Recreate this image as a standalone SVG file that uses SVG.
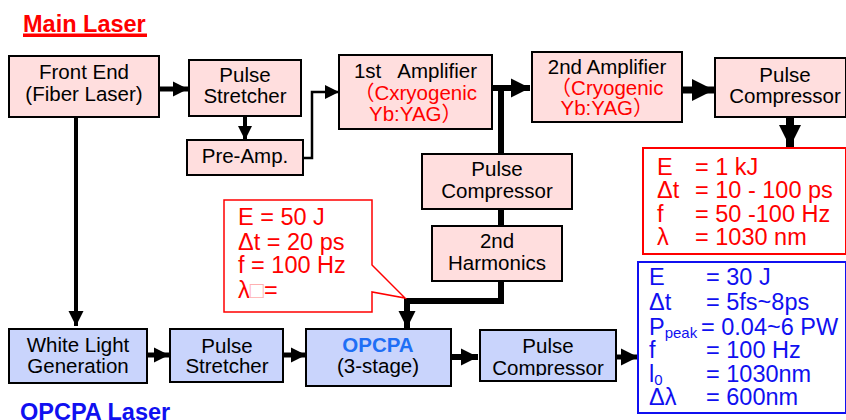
<svg xmlns="http://www.w3.org/2000/svg" width="846" height="420" viewBox="0 0 846 420">
<style>
text{font-family:"Liberation Sans","Noto Sans CJK JP",Arial,sans-serif}
.box{stroke:#000;stroke-width:2}
.pink{fill:#ffdede}
.blue{fill:#c9d4fc}
.t{font-size:20.5px;fill:#000;text-anchor:middle}
.r{fill:#f00}
.title{font-size:23.5px;font-weight:bold}
.p{font-size:23.5px}
.pr{fill:#f00}
.pb{fill:#1010f0}
.c{fill:none;stroke:#000;stroke-linejoin:miter}
.pre{white-space:pre}
</style>
<defs>
<marker id="a1" viewBox="0 0 10 10" refX="10" refY="5" markerUnits="userSpaceOnUse" markerWidth="15" markerHeight="16" orient="auto"><path d="M0,0L10,5L0,10z" fill="#000"/></marker>
<marker id="a2" viewBox="0 0 10 10" refX="10" refY="5" markerUnits="userSpaceOnUse" markerWidth="14" markerHeight="15" orient="auto"><path d="M0,0L10,5L0,10z" fill="#000"/></marker>
<marker id="a3" viewBox="0 0 10 10" refX="10" refY="5" markerUnits="userSpaceOnUse" markerWidth="19" markerHeight="21" orient="auto"><path d="M0,0L10,5L0,10z" fill="#000"/></marker>
<marker id="a4" viewBox="0 0 10 10" refX="10" refY="5" markerUnits="userSpaceOnUse" markerWidth="22" markerHeight="27" orient="auto"><path d="M0,0L10,5L0,10z" fill="#000"/></marker>
<marker id="a5" viewBox="0 0 10 10" refX="10" refY="5" markerUnits="userSpaceOnUse" markerWidth="17" markerHeight="18" orient="auto"><path d="M0,0L10,5L0,10z" fill="#000"/></marker>
<clipPath id="clipPC"><rect x="480" y="330" width="136" height="46"/></clipPath>
</defs>

<g id="titles">
<text x="23" y="32" class="title r">Main Laser</text>
<rect x="23" y="33.5" width="124" height="3.5" fill="#f00"/>
<text x="20" y="419.5" class="title" fill="#1010f0">OPCPA Laser</text>
</g>

<g id="connectors">
<path class="c" d="M159,89H188" stroke-width="5" marker-end="url(#a1)"/>
<path class="c" d="M245,116V140" stroke-width="4" marker-end="url(#a2)"/>
<path class="c" d="M303,158H312V92H339" stroke-width="2.5" marker-end="url(#a2)"/>
<path class="c" d="M492,88H530" stroke-width="6" marker-end="url(#a3)"/>
<path class="c" d="M501,88V154" stroke-width="6"/>
<path class="c" d="M501,209V226" stroke-width="6"/>
<path class="c" d="M501,281V301H407V328" stroke-width="6" marker-end="url(#a5)"/>
<path class="c" d="M682,90H714" stroke-width="7" marker-end="url(#a4)"/>
<path class="c" d="M790,117V147" stroke-width="8" marker-end="url(#a4)"/>
<path class="c" d="M76,117V326" stroke-width="4" marker-end="url(#a1)"/>
<path class="c" d="M147,355H169" stroke-width="5" marker-end="url(#a1)"/>
<path class="c" d="M283,355H306" stroke-width="5" marker-end="url(#a1)"/>
<path class="c" d="M451,357H478" stroke-width="6" marker-end="url(#a5)"/>
<path class="c" d="M616,357H638" stroke-width="5" marker-end="url(#a5)"/>
</g>

<g id="front-end">
<rect x="9" y="56" width="150" height="61" class="box pink"/>
<text x="84" y="79" class="t">Front End</text>
<text x="84" y="101" class="t">(Fiber Laser)</text>
</g>

<g id="pulse-stretcher-main">
<rect x="189" y="60" width="112" height="56" class="box pink"/>
<text x="245" y="82" class="t">Pulse</text>
<text x="245" y="103" class="t">Stretcher</text>
</g>

<g id="pre-amp">
<rect x="187" y="140" width="116" height="35" class="box pink"/>
<text x="245" y="163" class="t">Pre-Amp.</text>
</g>

<g id="amp1">
<rect x="339" y="55" width="153" height="74" class="box pink"/>
<text x="415.5" y="78" class="t pre">1st   Amplifier</text>
<text x="415.5" y="100" class="t r">（Cxryogenic</text>
<text x="415.5" y="121" class="t r">Yb:YAG）</text>
</g>

<g id="amp2">
<rect x="532" y="52" width="150" height="70" class="box pink"/>
<text x="607" y="74" class="t">2nd Amplifier</text>
<text x="607" y="95" class="t r">（Cryogenic</text>
<text x="607" y="115" class="t r">Yb:YAG）</text>
</g>

<g id="pulse-compressor-main">
<rect x="715" y="58" width="131" height="59" class="box pink"/>
<text x="785" y="82" class="t">Pulse</text>
<text x="785" y="103" class="t">Compressor</text>
</g>

<g id="main-output">
<rect x="643" y="148" width="203" height="106" fill="#fff" stroke="#f00" stroke-width="2"/>
<text y="175" class="p pr"><tspan x="657">E</tspan><tspan x="695">= 1 kJ</tspan></text>
<text y="198" class="p pr"><tspan x="657">Δt</tspan><tspan x="695">= 10 - 100 ps</tspan></text>
<text y="222" class="p pr"><tspan x="657">f</tspan><tspan x="695">= 50 -100 Hz</tspan></text>
<text y="245" class="p pr"><tspan x="657">λ</tspan><tspan x="695">= 1030 nm</tspan></text>
</g>

<g id="pulse-compressor-mid">
<rect x="422" y="154" width="150" height="55" class="box pink"/>
<text x="497" y="176" class="t">Pulse</text>
<text x="497" y="198" class="t">Compressor</text>
</g>

<g id="harmonics">
<rect x="432" y="226" width="130" height="55" class="box pink"/>
<text x="497" y="248" class="t">2nd</text>
<text x="497" y="270" class="t">Harmonics</text>
</g>

<g id="callout">
<path d="M224,200H372V265L405,298L372,292V312H224Z" fill="#fff" stroke="#f00" stroke-width="1.5"/>
<text x="238" y="225" class="p pr">E = 50 J</text>
<text x="238" y="250" class="p pr">Δt = 20 ps</text>
<text x="238" y="273" class="p pr">f = 100 Hz</text>
<text x="238" y="298" class="p pr">λ<tspan fill="#ffb0b0">□</tspan>=</text>
</g>

<g id="white-light">
<rect x="9" y="329" width="138" height="54" class="box blue"/>
<text x="78" y="352" class="t">White Light</text>
<text x="78" y="373" class="t">Generation</text>
</g>

<g id="pulse-stretcher-opcpa">
<rect x="170" y="329" width="113" height="53" class="box blue"/>
<text x="227" y="353" class="t">Pulse</text>
<text x="227" y="373" class="t">Stretcher</text>
</g>

<g id="opcpa">
<rect x="306" y="329" width="145" height="57" class="box blue"/>
<text x="378" y="352" class="t" font-weight="bold" style="fill:#1f6ff5">OPCPA</text>
<text x="378" y="373" class="t">(3-stage)</text>
</g>

<g id="pulse-compressor-opcpa">
<rect x="480" y="330" width="136" height="51" class="box blue"/>
<text x="548" y="353" class="t">Pulse</text>
<text x="548" y="375" class="t" clip-path="url(#clipPC)">Compressor</text>
</g>

<g id="opcpa-output">
<rect x="638" y="262" width="208" height="151" fill="#fff" stroke="#1010f0" stroke-width="2"/>
<text y="285" class="p pb"><tspan x="649">E</tspan><tspan x="706">= 30 J</tspan></text>
<text y="310" class="p pb"><tspan x="649">Δt</tspan><tspan x="706">= 5fs~8ps</tspan></text>
<text y="335" class="p pb"><tspan x="649">P</tspan><tspan font-size="15" dy="3">peak</tspan><tspan x="701" dy="-3">= 0.04~6 PW</tspan></text>
<text y="358" class="p pb"><tspan x="649">f</tspan><tspan x="706">= 100 Hz</tspan></text>
<text y="382" class="p pb"><tspan x="649">l</tspan><tspan font-size="15" dy="3">0</tspan><tspan x="706" dy="-3">= 1030nm</tspan></text>
<text y="405" class="p pb"><tspan x="649">Δλ</tspan><tspan x="706">= 600nm</tspan></text>
</g>
</svg>
